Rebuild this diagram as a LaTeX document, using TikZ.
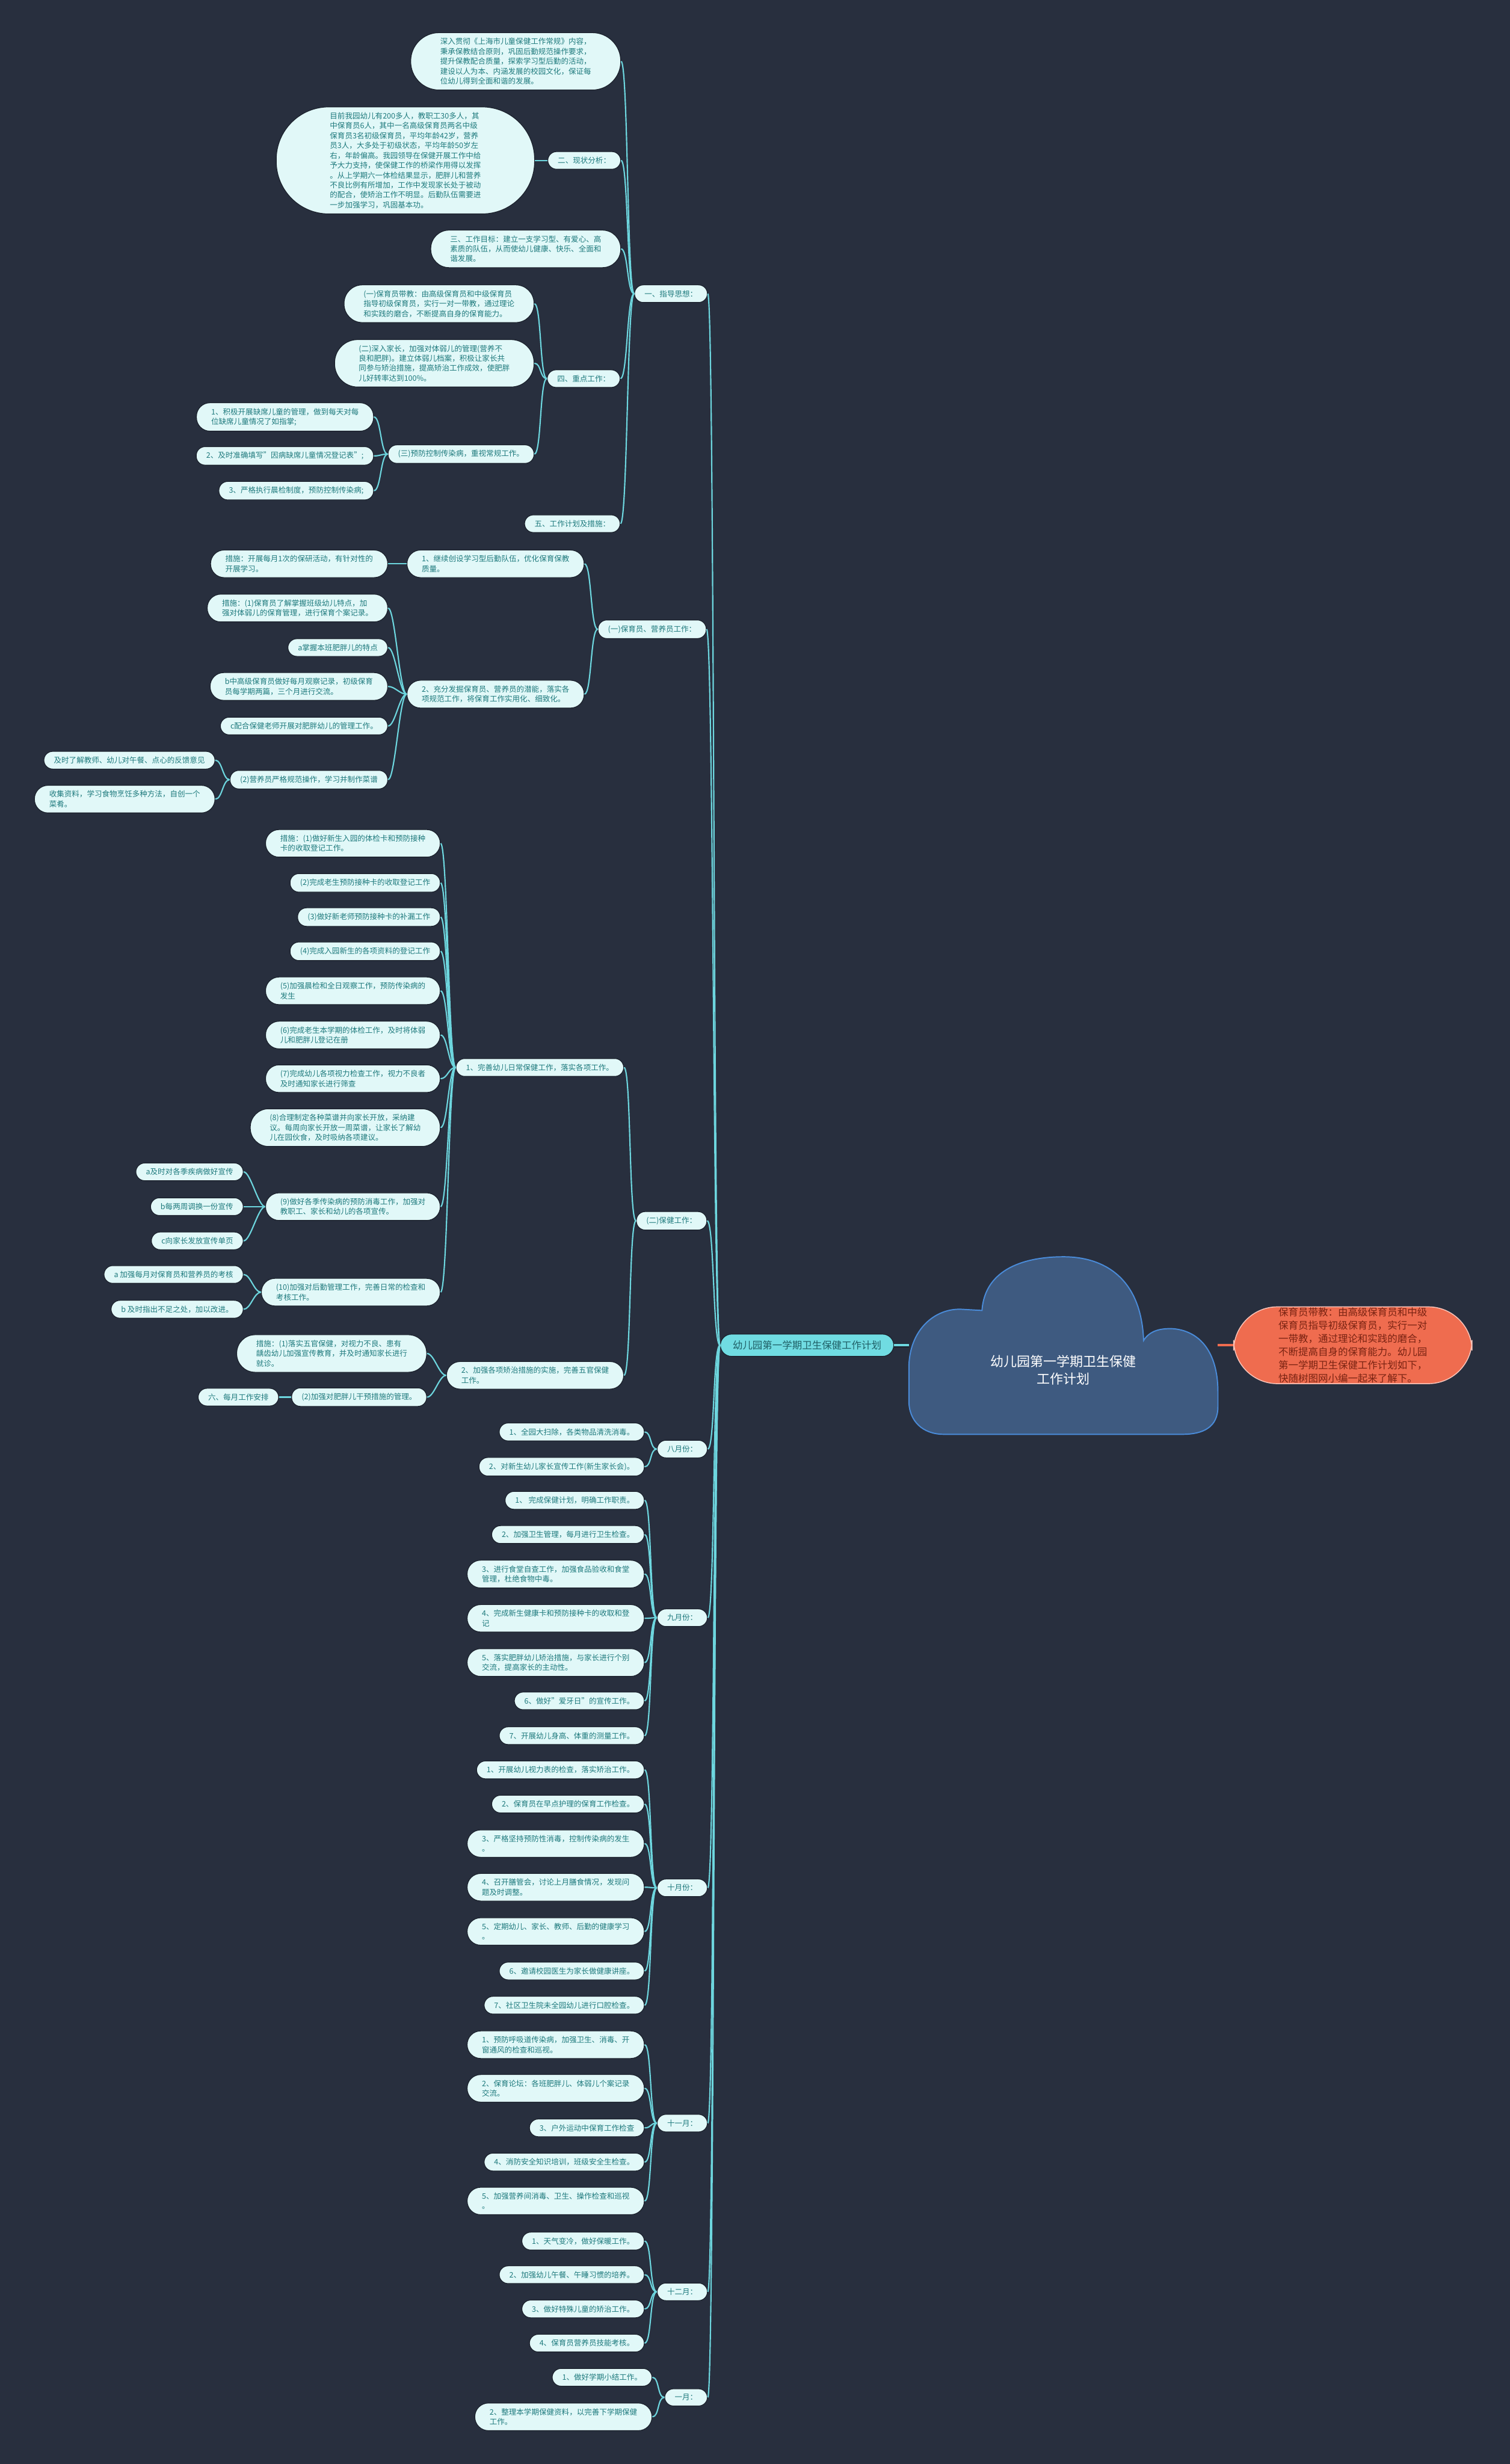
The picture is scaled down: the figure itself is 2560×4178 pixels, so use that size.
\documentclass[tikz,border=0pt]{standalone}
\usepackage{fontspec}
\setmainfont{Noto Sans CJK SC}
\usepackage{tikz}
\usetikzlibrary{calc}
\definecolor{bgcol}{HTML}{282F3E}
\definecolor{nodefill}{HTML}{E1F8F8}
\definecolor{nodetext}{HTML}{1E7A7D}
\definecolor{nodeedge}{HTML}{1A202B}
\definecolor{linkcol}{HTML}{6DD6DE}
\definecolor{plancol}{HTML}{70DCE2}
\definecolor{plantext}{HTML}{1F5F66}
\definecolor{cloudcol}{HTML}{3E5A80}
\definecolor{cloudedge}{HTML}{4A8BD8}
\definecolor{notecol}{HTML}{EF6C4F}
\definecolor{notetext}{HTML}{7A2312}

\begin{document}
\begin{tikzpicture}[x=1pt, y=-1pt,
  pad/.style={rounded corners=#1, inner xsep=#1+2pt},
  leaf/.style={fill=nodefill, draw=nodeedge, line width=1.2pt, text=nodetext,
    font=\fontsize{12.8pt}{16.8pt}\selectfont, align=left, inner ysep=9pt, pad=15pt, anchor=east},
  plan/.style={fill=plancol, draw=nodeedge, line width=1.2pt, text=plantext,
    font=\fontsize{16.8pt}{22.5pt}\selectfont, inner ysep=11pt, pad=19pt, anchor=east},
  note/.style={fill=notecol, draw=notecol!40!white, line width=1.5pt, text=notetext,
    font=\fontsize{16.8pt}{22.5pt}\selectfont, align=left, inner ysep=1pt, pad=74pt, anchor=west},
  link/.style={draw=linkcol, line width=2.2pt,
    to path={.. controls ($(\tikztostart)+(-12,0)$) and ($(\tikztotarget)+(12,0)$) .. (\tikztotarget)}}]
\fill[bgcol] (0,0) rectangle (2560,4178);
\useasboundingbox (0,0) rectangle (2560,4178);

% central cloud
\draw[fill=cloudcol, draw=cloudedge, line width=2pt]
  (1665,2222) .. controls (1670,2150) and (1740,2131) .. (1803,2131)
  .. controls (1870,2131) and (1935,2165) .. (1939,2273)
  .. controls (1950,2255) and (1970,2252) .. (1990,2253)
  .. controls (2040,2258) and (2065,2300) .. (2065,2360)
  -- (2065,2385) .. controls (2065,2420) and (2040,2432) .. (2005,2432)
  -- (1600,2432) .. controls (1565,2432) and (1541,2410) .. (1541,2375)
  -- (1541,2320) .. controls (1541,2255) and (1585,2218) .. (1630,2220) -- cycle;
\node[text=white, font=\fontsize{22.5pt}{30pt}\selectfont, align=center] (root) at (1803,2323) {幼儿园第一学期卫生保健\\工作计划};
\coordinate (cloudW) at (1541,2281);
\coordinate (cloudE) at (2065,2281);

\node[note] (summary) at (2091,2281) {保育员带教：由高级保育员和中级\\保育员指导初级保育员，实行一对\\一带教，通过理论和实践的磨合，\\不断提高自身的保育能力。幼儿园\\第一学期卫生保健工作计划如下，\\快随树图网小编一起来了解下。};
\draw[draw=notecol, line width=4pt] (cloudE) -- (summary.west);

\node[plan] (main) at (1516,2281) {幼儿园第一学期卫生保健工作计划};
\draw[draw=nodeedge, line width=7pt] (main.east) -- (cloudW);
\draw[draw=linkcol, line width=4pt] (main.east) -- (cloudW);

% first level
\node[leaf] (guide) at (1200,498) {一、指导思想：};
\node[leaf] (staff) at (1198,1067) {(一)保育员、营养员工作：};
\node[leaf] (care) at (1199,2070) {(二)保健工作：};
\node[leaf] (aug) at (1200,2457) {八月份：};
\node[leaf] (sep) at (1200,2743) {九月份：};
\node[leaf] (oct) at (1200,3201) {十月份：};
\node[leaf] (nov) at (1200,3600) {十一月：};
\node[leaf] (dec) at (1200,3886) {十二月：};
\node[leaf] (jan) at (1200,4065) {一月：};
\foreach \n in {guide,staff,care,aug,sep,oct,nov,dec,jan}
  \draw[link] (main.west) to (\n.east);

% guide
\node[leaf, pad=48pt] (intro) at (1053,104) {深入贯彻《上海市儿童保健工作常规》内容，\\秉承保教结合原则，巩固后勤规范操作要求，\\提升保教配合质量，探索学习型后勤的活动，\\建设以人为本、内涵发展的校园文化，保证每\\位幼儿得到全面和谐的发展。};
\node[leaf] (status) at (1053,272) {二、现状分析：};
\node[leaf, pad=89pt] (statustxt) at (907,272) {目前我园幼儿有200多人，教职工30多人，其\\中保育员6人，其中一名高级保育员两名中级\\保育员3名初级保育员，平均年龄42岁，营养\\员3人，大多处于初级状态，平均年龄50岁左\\右，年龄偏高。我园领导在保健开展工作中给\\予大力支持，使保健工作的桥梁作用得以发挥\\。从上学期六一体检结果显示，肥胖儿和营养\\不良比例有所增加，工作中发现家长处于被动\\的配合，使矫治工作不明显。后勤队伍需要进\\一步加强学习，巩固基本功。};
\node[leaf, pad=31pt] (goal) at (1053,422) {三、工作目标：建立一支学习型、有爱心、高\\素质的队伍，从而使幼儿健康、快乐、全面和\\谐发展。};
\node[leaf] (focus) at (1052,642) {四、重点工作：};
\node[leaf, pad=31pt] (focusa) at (906,515) {(一)保育员带教：由高级保育员和中级保育员\\指导初级保育员，实行一对一带教，通过理论\\和实践的磨合，不断提高自身的保育能力。};
\node[leaf, pad=39pt] (focusb) at (906,616) {(二)深入家长，加强对体弱儿的管理(营养不\\良和肥胖)。建立体弱儿档案，积极让家长共\\同参与矫治措施，提高矫治工作成效，使肥胖\\儿好转率达到100\%。};
\node[leaf] (focusc) at (906,770) {(三)预防控制传染病，重视常规工作。};
\node[leaf, pad=23pt] (illa) at (634,707) {1、积极开展缺席儿童的管理，做到每天对每\\位缺席儿童情况了如指掌;};
\node[leaf] (illb) at (634,773) {2、及时准确填写"因病缺席儿童情况登记表";};
\node[leaf] (illc) at (634,832) {3、严格执行晨检制度，预防控制传染病;};
\node[leaf] (steps) at (1052,888) {五、工作计划及措施：};
\draw[link] (guide.west) to (intro.east);
\draw[link] (guide.west) to (status.east);
\draw[link] (guide.west) to (goal.east);
\draw[link] (guide.west) to (focus.east);
\draw[link] (guide.west) to (steps.east);
\draw[link] (status.west) to (statustxt.east);
\draw[link] (focus.west) to (focusa.east);
\draw[link] (focus.west) to (focusb.east);
\draw[link] (focus.west) to (focusc.east);
\draw[link] (focusc.west) to (illa.east);
\draw[link] (focusc.west) to (illb.east);
\draw[link] (focusc.west) to (illc.east);

% staff
\node[leaf, pad=23pt] (team) at (991,956) {1、继续创设学习型后勤队伍，优化保育保教\\质量。};
\node[leaf, pad=23pt] (teamdo) at (658,956) {措施：开展每月1次的保研活动，有针对性的\\开展学习。};
\node[leaf, pad=23pt] (skill) at (991,1177) {2、充分发掘保育员、营养员的潜能，落实各\\项规范工作，将保育工作实用化、细致化。};
\node[leaf, pad=23pt] (skilla) at (658,1031) {措施：(1)保育员了解掌握班级幼儿特点，加\\强对体弱儿的保育管理，进行保育个案记录。};
\node[leaf] (skillb) at (658,1098) {a掌握本班肥胖儿的特点};
\node[leaf, pad=23pt] (skillc) at (658,1164) {b中高级保育员做好每月观察记录，初级保育\\员每学期两篇，三个月进行交流。};
\node[leaf] (skilld) at (658,1231) {c配合保健老师开展对肥胖幼儿的管理工作。};
\node[leaf] (cook) at (658,1322) {(2)营养员严格规范操作，学习并制作菜谱};
\node[leaf] (cooka) at (365,1289) {及时了解教师、幼儿对午餐、点心的反馈意见};
\node[leaf, pad=23pt] (cookb) at (365,1355) {收集资料，学习食物烹饪多种方法，自创一个\\菜肴。};
\draw[link] (staff.west) to (team.east);
\draw[link] (staff.west) to (skill.east);
\draw[link] (team.west) to (teamdo.east);
\draw[link] (skill.west) to (skilla.east);
\draw[link] (skill.west) to (skillb.east);
\draw[link] (skill.west) to (skillc.east);
\draw[link] (skill.west) to (skilld.east);
\draw[link] (skill.west) to (cook.east);
\draw[link] (cook.west) to (cooka.east);
\draw[link] (cook.west) to (cookb.east);

% care
\node[leaf] (daily) at (1058,1810) {1、完善幼儿日常保健工作，落实各项工作。};
\node[leaf, pad=23pt] (da) at (747,1430) {措施：(1)做好新生入园的体检卡和预防接种\\卡的收取登记工作。};
\node[leaf] (db) at (747,1497) {(2)完成老生预防接种卡的收取登记工作};
\node[leaf] (dc) at (747,1555) {(3)做好新老师预防接种卡的补漏工作};
\node[leaf] (dd) at (747,1613) {(4)完成入园新生的各项资料的登记工作};
\node[leaf, pad=23pt] (de) at (747,1680) {(5)加强晨检和全日观察工作，预防传染病的\\发生};
\node[leaf, pad=23pt] (df) at (747,1755) {(6)完成老生本学期的体检工作，及时将体弱\\儿和肥胖儿登记在册};
\node[leaf, pad=23pt] (dg) at (747,1829) {(7)完成幼儿各项视力检查工作，视力不良者\\及时通知家长进行筛查};
\node[leaf, pad=31pt] (dh) at (747,1912) {(8)合理制定各种菜谱并向家长开放，采纳建\\议。每周向家长开放一周菜谱，让家长了解幼\\儿在园伙食，及时吸纳各项建议。};
\node[leaf, pad=23pt] (di) at (747,2046) {(9)做好各季传染病的预防消毒工作，加强对\\教职工、家长和幼儿的各项宣传。};
\node[leaf] (dia) at (413,1987) {a及时对各季疾病做好宣传};
\node[leaf] (dib) at (413,2046) {b每两周调换一份宣传};
\node[leaf] (dic) at (413,2104) {c向家长发放宣传单页};
\node[leaf, pad=23pt] (dj) at (747,2191) {(10)加强对后勤管理工作，完善日常的检查和\\考核工作。};
\node[leaf] (dja) at (413,2161) {a 加强每月对保育员和营养员的考核};
\node[leaf] (djb) at (413,2220) {b 及时指出不足之处，加以改进。};
\node[leaf, pad=23pt] (fix) at (1058,2332) {2、加强各项矫治措施的实施，完善五官保健\\工作。};
\node[leaf, pad=31pt] (fixa) at (724,2295) {措施：(1)落实五官保健，对视力不良、患有\\龋齿幼儿加强宣传教育，并及时通知家长进行\\就诊。};
\node[leaf] (fixb) at (724,2369) {(2)加强对肥胖儿干预措施的管理。};
\node[leaf] (monthly) at (473,2369) {六、每月工作安排};
\draw[link] (care.west) to (daily.east);
\draw[link] (care.west) to (fix.east);
\foreach \n in {da,db,dc,dd,de,df,dg,dh,di,dj}
  \draw[link] (daily.west) to (\n.east);
\draw[link] (di.west) to (dia.east);
\draw[link] (di.west) to (dib.east);
\draw[link] (di.west) to (dic.east);
\draw[link] (dj.west) to (dja.east);
\draw[link] (dj.west) to (djb.east);
\draw[link] (fix.west) to (fixa.east);
\draw[link] (fix.west) to (fixb.east);
\draw[link] (fixb.west) to (monthly.east);

% months
\node[leaf] (auga) at (1093,2428) {1、全园大扫除，各类物品清洗消毒。};
\node[leaf] (augb) at (1093,2487) {2、对新生幼儿家长宣传工作(新生家长会)。};
\draw[link] (aug.west) to (auga.east);
\draw[link] (aug.west) to (augb.east);

\node[leaf] (sepa) at (1093,2544) {1、 完成保健计划，明确工作职责。};
\node[leaf] (sepb) at (1093,2602) {2、加强卫生管理，每月进行卫生检查。};
\node[leaf, pad=23pt] (sepc) at (1093,2669) {3、进行食堂自查工作，加强食品验收和食堂\\管理，杜绝食物中毒。};
\node[leaf, pad=23pt] (sepd) at (1093,2744) {4、完成新生健康卡和预防接种卡的收取和登\\记};
\node[leaf, pad=23pt] (sepe) at (1093,2819) {5、落实肥胖幼儿矫治措施，与家长进行个别\\交流，提高家长的主动性。};
\node[leaf] (sepf) at (1093,2884) {6、做好"爱牙日"的宣传工作。};
\node[leaf] (sepg) at (1093,2943) {7、开展幼儿身高、体重的测量工作。};
\foreach \n in {sepa,sepb,sepc,sepd,sepe,sepf,sepg}
  \draw[link] (sep.west) to (\n.east);

\node[leaf] (octa) at (1093,3001) {1、开展幼儿视力表的检查，落实矫治工作。};
\node[leaf] (octb) at (1093,3059) {2、保育员在早点护理的保育工作检查。};
\node[leaf, pad=23pt] (octc) at (1093,3126) {3、严格坚持预防性消毒，控制传染病的发生\\。};
\node[leaf, pad=23pt] (octd) at (1093,3200) {4、召开膳管会，讨论上月膳食情况，发现问\\题及时调整。};
\node[leaf, pad=23pt] (octe) at (1093,3275) {5、定期幼儿、家长、教师、后勤的健康学习\\。};
\node[leaf] (octf) at (1093,3342) {6、邀请校园医生为家长做健康讲座。};
\node[leaf] (octg) at (1093,3400) {7、社区卫生院未全园幼儿进行口腔检查。};
\foreach \n in {octa,octb,octc,octd,octe,octf,octg}
  \draw[link] (oct.west) to (\n.east);

\node[leaf, pad=23pt] (nova) at (1093,3467) {1、预防呼吸道传染病，加强卫生、消毒、开\\窗通风的检查和巡视。};
\node[leaf, pad=23pt] (novb) at (1093,3541) {2、保育论坛：各班肥胖儿、体弱儿个案记录\\交流。};
\node[leaf] (novc) at (1093,3608) {3、户外运动中保育工作检查};
\node[leaf] (novd) at (1093,3666) {4、消防安全知识培训，班级安全生检查。};
\node[leaf, pad=23pt] (nove) at (1093,3732) {5、加强营养间消毒、卫生、操作检查和巡视\\。};
\foreach \n in {nova,novb,novc,novd,nove}
  \draw[link] (nov.west) to (\n.east);

\node[leaf] (deca) at (1093,3800) {1、天气变冷，做好保暖工作。};
\node[leaf] (decb) at (1093,3857) {2、加强幼儿午餐、午睡习惯的培养。};
\node[leaf] (decc) at (1093,3915) {3、做好特殊儿童的矫治工作。};
\node[leaf] (decd) at (1093,3973) {4、保育员营养员技能考核。};
\foreach \n in {deca,decb,decc,decd}
  \draw[link] (dec.west) to (\n.east);

\node[leaf] (jana) at (1106,4031) {1、做好学期小结工作。};
\node[leaf, pad=23pt] (janb) at (1106,4098) {2、整理本学期保健资料，以完善下学期保健\\工作。};
\draw[link] (jan.west) to (jana.east);
\draw[link] (jan.west) to (janb.east);
\end{tikzpicture}
\end{document}
